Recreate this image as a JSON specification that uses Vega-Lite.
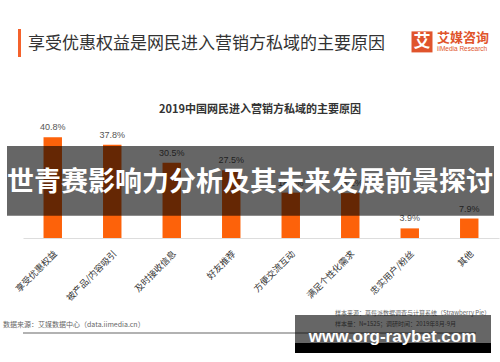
{
  "$schema": "https://vega.github.io/schema/vega-lite/v6.json",
  "autosize": "none",
  "width": 476,
  "height": 111,
  "padding": {"left": 23, "top": 127, "right": 1, "bottom": 124},
  "background": "white",
  "config": {"view": {"stroke": null}, "font": "Noto Sans CJK SC"},
  "datasets": {
    "reasons": [
      {"reason": "享受优惠权益", "value": 40.8},
      {"reason": "被产品/内容吸引", "value": 37.8},
      {"reason": "及时接收信息", "value": 30.5},
      {"reason": "好友推荐", "value": 27.5},
      {"reason": "方便交流互动", "value": 18.4},
      {"reason": "满足个性化需求", "value": 18.2},
      {"reason": "忠实用户/粉丝", "value": 3.9},
      {"reason": "其他", "value": 7.9}
    ],
    "one": [{}]
  },
  "layer": [
    {
      "data": {"name": "reasons"},
      "mark": {"type": "bar", "color": "#fd620a"},
      "encoding": {
        "x": {
          "field": "reason", "type": "nominal", "sort": null,
          "scale": {"paddingInner": 0.69, "paddingOuter": 0.345},
          "axis": {"title": null, "labelAngle": -45, "labelFontSize": 9, "labelColor": "#333",
                   "labelPadding": 11, "ticks": false, "domainColor": "#dddddd", "domainWidth": 1}
        },
        "y": {"field": "value", "type": "quantitative", "scale": {"domain": [0, 45], "nice": false, "zero": false}, "axis": null}
      }
    },
    {
      "data": {"name": "reasons"},
      "transform": [{"calculate": "format(datum.value, '.1f') + '%'", "as": "label"}],
      "mark": {"type": "text", "fontSize": 9, "color": "#555", "baseline": "middle", "dy": -10, "font": "Liberation Sans"},
      "encoding": {
        "x": {"field": "reason", "type": "nominal", "sort": null},
        "y": {"field": "value", "type": "quantitative", "scale": {"domain": [0, 45], "nice": false, "zero": false}},
        "text": {"field": "label", "type": "nominal"}
      }
    },
    {
      "data": {"name": "one"},
      "mark": {"type": "point", "shape": "M-1,-0.1431H1V0.1431H-1Z", "size": 237169, "filled": true, "color": "#000", "opacity": 0.6, "strokeWidth": 0, "xOffset": -10.5},
      "encoding": {
        "y": {"datum": 23.17, "type": "quantitative", "scale": {"domain": [0, 45], "nice": false, "zero": false}}
      }
    },
    {
      "data": {"name": "one"},
      "mark": {"type": "text", "text": "世青赛影响力分析及其未来发展前景探讨", "fontSize": 27, "fontWeight": "bold", "color": "white", "baseline": "middle", "align": "center", "dx": -11},
      "encoding": {
        "y": {"datum": 22.3, "type": "quantitative", "scale": {"domain": [0, 45], "nice": false, "zero": false}}
      }
    },
    {
      "data": {"name": "one"},
      "mark": {"type": "text", "text": "2019中国网民进入营销方私域的主要原因", "fontSize": 11, "fontWeight": "bold", "color": "#333", "baseline": "middle", "align": "center", "dx": -1},
      "encoding": {
        "y": {"datum": 51.9, "type": "quantitative", "scale": {"domain": [0, 45], "nice": false, "zero": false}}
      }
    },
    {
      "data": {"name": "one"},
      "mark": {"type": "point", "shape": "M-0.107,-1H0.107V1H-0.107Z", "size": 784, "filled": true, "color": "#f4622c", "strokeWidth": 0, "opacity": 1, "xOffset": -241.5},
      "encoding": {
        "y": {"datum": 79.05, "type": "quantitative", "scale": {"domain": [0, 45], "nice": false, "zero": false}}
      }
    },
    {
      "data": {"name": "one"},
      "mark": {"type": "text", "text": "享受优惠权益是网民进入营销方私域的主要原因", "fontSize": 17, "color": "#333", "baseline": "middle", "align": "left", "dx": -233},
      "encoding": {
        "y": {"datum": 78.5, "type": "quantitative", "scale": {"domain": [0, 45], "nice": false, "zero": false}}
      }
    },
    {
      "data": {"name": "one"},
      "mark": {"type": "point", "shape": "square", "size": 441, "filled": true, "color": "#e0542c", "strokeWidth": 0, "opacity": 1, "xOffset": 161},
      "encoding": {
        "y": {"datum": 79.5, "type": "quantitative", "scale": {"domain": [0, 45], "nice": false, "zero": false}}
      }
    },
    {
      "data": {"name": "one"},
      "mark": {"type": "text", "text": "艾", "fontSize": 17, "fontWeight": "bold", "color": "white", "baseline": "middle", "align": "center", "dx": 161},
      "encoding": {
        "y": {"datum": 79.5, "type": "quantitative", "scale": {"domain": [0, 45], "nice": false, "zero": false}}
      }
    },
    {
      "data": {"name": "one"},
      "mark": {"type": "text", "text": "艾媒咨询", "fontSize": 13, "fontWeight": "bold", "color": "#e0542c", "baseline": "middle", "align": "left", "dx": 176},
      "encoding": {
        "y": {"datum": 80.9, "type": "quantitative", "scale": {"domain": [0, 45], "nice": false, "zero": false}}
      }
    },
    {
      "data": {"name": "one"},
      "mark": {"type": "text", "text": "iiMedia Research", "fontSize": 6.5, "color": "#e0542c", "baseline": "middle", "align": "left", "dx": 176, "font": "Liberation Sans"},
      "encoding": {
        "y": {"datum": 76.6, "type": "quantitative", "scale": {"domain": [0, 45], "nice": false, "zero": false}}
      }
    },
    {
      "data": {"name": "one"},
      "mark": {"type": "text", "text": "数据来源：艾媒数据中心（data.iimedia.cn）", "fontSize": 7, "color": "#666", "baseline": "middle", "align": "left", "dx": -258},
      "encoding": {
        "y": {"datum": -35.3, "type": "quantitative", "scale": {"domain": [0, 45], "nice": false, "zero": false}}
      }
    },
    {
      "data": {"name": "one"},
      "mark": {"type": "text", "text": "样本来源：草莓派数据调查与计算系统（Strawberry Pie）", "fontSize": 6, "color": "#666", "baseline": "middle", "align": "left", "dx": 74},
      "encoding": {
        "y": {"datum": -30.4, "type": "quantitative", "scale": {"domain": [0, 45], "nice": false, "zero": false}}
      }
    },
    {
      "data": {"name": "one"},
      "mark": {"type": "text", "text": "样本量：N=1525；调研时间：2019年8月-9月", "fontSize": 6, "color": "#666", "baseline": "middle", "align": "left", "dx": 74},
      "encoding": {
        "y": {"datum": -34.7, "type": "quantitative", "scale": {"domain": [0, 45], "nice": false, "zero": false}}
      }
    },
    {
      "data": {"name": "one"},
      "mark": {"type": "rule", "color": "#999", "strokeWidth": 1.5, "xOffset": -23, "x2Offset": 1},
      "encoding": {
        "y": {"datum": -38.5, "type": "quantitative", "scale": {"domain": [0, 45], "nice": false, "zero": false}}
      }
    },
    {
      "data": {"name": "one"},
      "mark": {"type": "text", "text": "艾媒咨询 Copyright © 2019 iiMedia Research Inc", "fontSize": 6.5, "color": "#888", "baseline": "middle", "align": "right", "dx": 229},
      "encoding": {
        "y": {"datum": -44.2, "type": "quantitative", "scale": {"domain": [0, 45], "nice": false, "zero": false}}
      }
    },
    {
      "data": {"name": "one"},
      "mark": {"type": "point", "shape": "M-1,-0.1429H1V0.1429H-1Z", "size": 38416, "filled": true, "color": "#000", "opacity": 0.6, "strokeWidth": 0, "xOffset": 132},
      "encoding": {
        "y": {"datum": -36.9, "type": "quantitative", "scale": {"domain": [0, 45], "nice": false, "zero": false}}
      }
    },
    {
      "data": {"name": "one"},
      "mark": {"type": "point", "shape": "M-1,-0.051H1V0.051H-1Z", "size": 38416, "filled": true, "color": "#000", "opacity": 1, "strokeWidth": 0, "xOffset": 132},
      "encoding": {
        "y": {"datum": -44.6, "type": "quantitative", "scale": {"domain": [0, 45], "nice": false, "zero": false}}
      }
    },
    {
      "data": {"name": "one"},
      "mark": {"type": "text", "text": "www.org-raybet.com", "fontSize": 17, "fontWeight": "bold", "color": "white", "baseline": "middle", "align": "center", "dx": 131.5, "font": "Liberation Sans"},
      "encoding": {
        "y": {"datum": -40.1, "type": "quantitative", "scale": {"domain": [0, 45], "nice": false, "zero": false}}
      }
    }
  ]
}
